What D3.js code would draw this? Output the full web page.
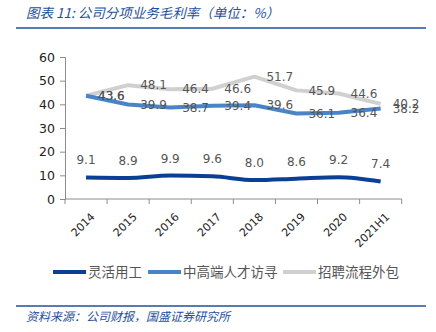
<!DOCTYPE html>
<html><head><meta charset="utf-8">
<script src="https://cdn.jsdelivr.net/npm/d3@7"></script>
<style>body{margin:0;background:#fff}</style>
</head><body>
<svg id="c" width="436" height="332"></svg>
<script>
const categories = ["2014","2015","2016","2017","2018","2019","2020","2021H1"];
const flexible = [9.1, 8.9, 9.9, 9.6, 8.0, 8.6, 9.2, 7.4];
const headhunt = [43.6, 39.9, 38.7, 39.4, 39.6, 36.1, 36.4, 38.2];
const rpo = [43.6, 48.1, 46.4, 46.6, 51.7, 45.9, 44.6, 40.2];
const yTicks = [0,10,20,30,40,50,60];
const seriesNames = ["灵活用工","中高端人才访寻","招聘流程外包"];
const colors = ["#0a3f96","#4a84c8","#d0d0d0"];

const svg = d3.select("#c");
const font = "'DejaVu Sans', Verdana, sans-serif";
const cjk = "'Noto Sans CJK SC', sans-serif";

// title
svg.append("text").attr("x",26).attr("y",18).attr("font-family",cjk).attr("font-style","italic")
  .attr("font-size",13.5).attr("fill","#1f4f9c").text("图表 11:  公司分项业务毛利率（单位：%）");
svg.append("line").attr("x1",16).attr("x2",426).attr("y1",28).attr("y2",28).attr("stroke","#1f4f9c").attr("stroke-width",1.5);

const x = d3.scaleBand().domain(categories).range([65,401.7]);
const y = d3.scaleLinear().domain([0,60]).range([199,57]);

// axes
const yAxis = d3.axisLeft(y).tickValues(yTicks).tickSize(5).tickPadding(5);
const gy = svg.append("g").attr("transform","translate(65,0)").call(yAxis);
gy.select(".domain").attr("stroke","#8c8c8c");
gy.selectAll(".tick line").attr("stroke","#8c8c8c");
gy.selectAll("text").attr("font-family",font).attr("font-size",12.5).attr("fill","#222");

const gx = svg.append("g").attr("transform","translate(0,199)");
gx.append("line").attr("x1",65).attr("x2",401.7).attr("stroke","#8c8c8c");
const edges = categories.map(c=>x(c)).concat([x.range()[1]]);
gx.selectAll("line.t").data(edges).join("line").attr("class","t")
  .attr("x1",d=>d).attr("x2",d=>d).attr("y1",0).attr("y2",5).attr("stroke","#8c8c8c");
gx.selectAll("text").data(categories).join("text")
  .attr("transform",d=>`translate(${x(d)+x.bandwidth()/2+4},${13}) rotate(-45)`)
  .attr("text-anchor","end").attr("dy","0.7em")
  .attr("font-family",font).attr("font-size",11).attr("fill","#222").text(d=>d);

const cx = d=>x(d)+x.bandwidth()/2;
const line = d3.line().x((v,i)=>cx(categories[i])).y(v=>y(v));
const data = [flexible, headhunt, rpo];
[2,1,0].forEach(k=>{
  svg.append("path").attr("d",line.curve(k===0?d3.curveMonotoneX:d3.curveLinear)(data[k]))
    .attr("fill","none").attr("stroke",colors[k]).attr("stroke-width",4).attr("stroke-linejoin","round");
});

// labels
svg.append("g").selectAll("text").data(flexible).join("text")
  .attr("x",(v,i)=>cx(categories[i])).attr("y",v=>y(v)-13)
  .attr("text-anchor","middle").attr("font-family",font).attr("font-size",12).attr("fill","#555")
  .text(v=>v.toFixed(1));
[rpo, headhunt].forEach(arr=>{
  svg.append("g").selectAll("text").data(arr).join("text")
    .attr("x",(v,i)=>cx(categories[i])+12).attr("y",v=>y(v)).attr("dy","0.35em")
    .attr("font-family",font).attr("font-size",12).attr("fill","#555")
    .text(v=>v.toFixed(1));
});

// legend
const lg = svg.append("g");
const lx = [53,148,283];
seriesNames.forEach((n,i)=>{
  lg.append("line").attr("x1",lx[i]).attr("x2",lx[i]+33).attr("y1",272).attr("y2",272)
    .attr("stroke",colors[i]).attr("stroke-width",4);
  lg.append("text").attr("x",lx[i]+35).attr("y",272).attr("dy","0.36em")
    .attr("font-family",cjk).attr("font-size",13.5).attr("fill","#555").text(n);
});

// footer
svg.append("line").attr("x1",16).attr("x2",426).attr("y1",306).attr("y2",306).attr("stroke","#1f4f9c").attr("stroke-width",1.5);
svg.append("text").attr("x",26).attr("y",321).attr("font-family",cjk).attr("font-style","italic")
  .attr("font-size",12).attr("fill","#1f4f9c").text("资料来源：公司财报，国盛证券研究所");
</script>
</body></html>
